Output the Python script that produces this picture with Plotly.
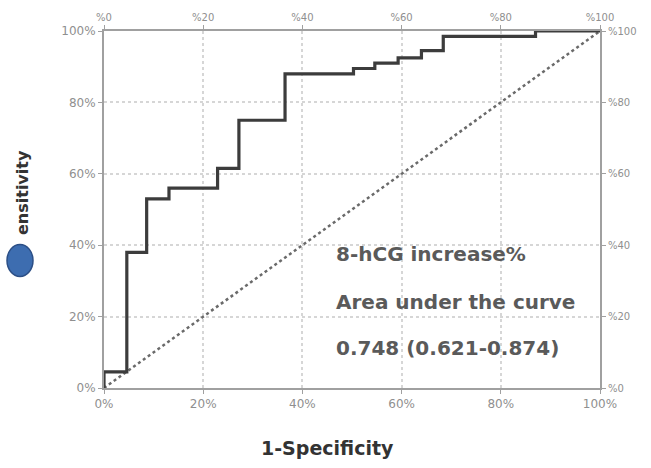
import plotly.graph_objects as go

# ROC step points (percent)
fpr = [0, 0, 4.6, 8.6, 13.1, 22.9, 27.2, 36.5, 50.3, 54.6, 59.3, 64.0, 68.4, 87.0, 100]
tpr = [0, 4.5, 38, 53, 56, 61.5, 75, 88, 89.5, 91, 92.5, 94.5, 98.5, 100, 100]
ref_x = [0, 100]
ref_y = [0, 100]

tick_vals = [0, 20, 40, 60, 80, 100]
left_labels = ["0%", "20%", "40%", "60%", "80%", "100%"]
bottom_labels = ["0%", "20%", "40%", "60%", "80%", "100%"]
top_labels = ["%0", "%20", "%40", "%60", "%80", "%100"]
right_labels = ["%0", "%20", "%40", "%60", "%80", "%100"]

notes = ["8-hCG increase%", "Area under the curve", "0.748 (0.621-0.874)"]
x_title = "1-Specificity"
y_title = "ensitivity"

fig = go.Figure()
fig.add_trace(go.Scatter(x=ref_x, y=ref_y, mode="lines",
                         line=dict(color="#6a6a6a", width=2.5, dash="dot"),
                         showlegend=False, hoverinfo="skip"))
fig.add_trace(go.Scatter(x=fpr, y=tpr, mode="lines", line_shape="hv",
                         line=dict(color="#3c3c3c", width=3.2),
                         showlegend=False))
fig.add_trace(go.Scatter(x=ref_x, y=ref_y, mode="lines", xaxis="x2", yaxis="y2",
                         line=dict(width=0), opacity=0, showlegend=False, hoverinfo="skip"))

def tf(size):
    return dict(family="DejaVu Sans", size=size, color="#8f8f8f")

common = dict(range=[0, 100], tickvals=tick_vals, showline=True, linecolor="#a0a0a0",
              linewidth=2, ticks="outside", ticklen=4, tickcolor="#a0a0a0",
              zeroline=False, fixedrange=True)

fig.update_layout(
    width=651, height=468,
    margin=dict(l=104, r=51, t=20, b=80),
    plot_bgcolor="white", paper_bgcolor="white",
    xaxis=dict(**common, ticktext=bottom_labels, tickfont=tf(12), showgrid=True,
               gridcolor="#d6d6d6", griddash="dot", gridwidth=1.5),
    yaxis=dict(**common, ticktext=left_labels, tickfont=tf(12), showgrid=True,
               gridcolor="#d6d6d6", griddash="dot", gridwidth=1.5),
    xaxis2=dict(**common, ticktext=top_labels, tickfont=tf(10), overlaying="x",
                side="top", showgrid=False),
    yaxis2=dict(**common, ticktext=right_labels, tickfont=tf(10), overlaying="y",
                side="right", showgrid=False),
)

fig.add_annotation(text="<b>" + x_title + "</b>", xref="paper", yref="paper",
                   x=(327 - 104) / 496, y=(388 - 450) / 368,
                   xanchor="center", yanchor="middle", showarrow=False,
                   font=dict(family="DejaVu Sans", size=19, color="#333333"))
fig.add_annotation(text="<b>" + y_title + "</b>", xref="paper", yref="paper",
                   x=(22 - 104) / 496, y=(388 - 187) / 368,
                   xanchor="center", yanchor="middle", showarrow=False, textangle=-90,
                   font=dict(family="DejaVu Sans", size=16, color="#333333"))
fig.add_shape(type="circle", xref="paper", yref="paper",
              x0=(7 - 104) / 496, x1=(33 - 104) / 496,
              y0=(388 - 273) / 368, y1=(388 - 240) / 368,
              fillcolor="#3d6db0", line=dict(color="#2c4f86", width=1.5))

note_y = [250, 299, 347]
for t, py in zip(notes, note_y):
    fig.add_annotation(text="<b>" + t + "</b>", xref="paper", yref="paper",
                       x=(334 - 104) / 496,
                       y=(388 - py) / 368, xanchor="left", yanchor="middle",
                       showarrow=False,
                       font=dict(family="DejaVu Sans", size=20, color="#5a5a5a"))

fig.write_html("out.html")
